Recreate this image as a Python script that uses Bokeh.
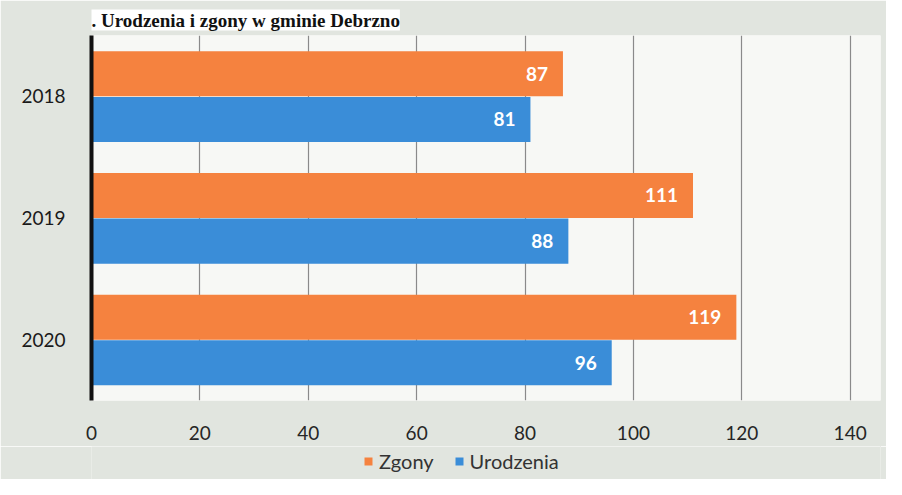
from bokeh.plotting import figure
from bokeh.layouts import column
from bokeh.models import ColumnDataSource, FactorRange, Range1d, Legend, LegendItem, FixedTicker, Title
from bokeh.transform import dodge
from bokeh.core.properties import value
from bokeh.embed import file_html
from bokeh.resources import INLINE

years = ["2018", "2019", "2020"]
zgony = [87, 111, 119]
urodzenia = [81, 88, 96]
x_ticks = [0, 20, 40, 60, 80, 100, 120, 140]
series_names = ["Zgony", "Urodzenia"]
title_text = ". Urodzenia i zgony w gminie Debrzno"

ORANGE = "#F5823F"
BLUE = "#3A8DD8"
FONT = "Lato"
BORDER = "#E1E5DF"
PLOTBG = "#F7F8F5"

src = ColumnDataSource(dict(
    year=years, zgony=zgony, urodzenia=urodzenia,
    zl=[str(v) for v in zgony], ul=[str(v) for v in urodzenia],
))

p = figure(width=886, height=446, output_backend="svg", toolbar_location=None,
           y_range=FactorRange(factors=years[::-1], range_padding=0),
           x_range=Range1d(0, 145.6),
           min_border_left=91, min_border_right=6, min_border_top=35, min_border_bottom=46)

p.title = Title(text=title_text, text_font="Liberation Serif", text_font_size="19px",
                text_font_style="bold", text_color="#111111", align="left",
                background_fill_color="white", standoff=10)

p.border_fill_color = BORDER
p.background_fill_color = PLOTBG
p.outline_line_color = None

r1 = p.hbar(y=dodge("year", 0.185, range=p.y_range), left=0, right="zgony", height=0.37,
            source=src, fill_color=ORANGE, line_color=None)
r2 = p.hbar(y=dodge("year", -0.19, range=p.y_range), left=0, right="urodzenia", height=0.37,
            source=src, fill_color=BLUE, line_color=None)

p.text(x="zgony", y=dodge("year", 0.185, range=p.y_range), text="zl", source=src,
       x_offset=-15, text_align="right", text_baseline="middle", text_color="white",
       text_font=value(FONT), text_font_size="19px", text_font_style="bold")
p.text(x="urodzenia", y=dodge("year", -0.19, range=p.y_range), text="ul", source=src,
       x_offset=-15, text_align="right", text_baseline="middle", text_color="white",
       text_font=value(FONT), text_font_size="19px", text_font_style="bold")

# x axis
p.xaxis.ticker = FixedTicker(ticks=x_ticks)
p.xaxis.axis_line_color = None
p.xaxis.major_tick_line_color = None
p.xaxis.minor_tick_line_color = None
p.xaxis.major_label_standoff = 19
p.xaxis.major_label_text_font = FONT
p.xaxis.major_label_text_font_size = "19px"
p.xaxis.major_label_text_color = "#262626"

# y axis
p.yaxis.axis_line_color = "#111111"
p.yaxis.axis_line_width = 4
p.yaxis.major_tick_line_color = None
p.yaxis.minor_tick_line_color = None
p.yaxis.major_label_standoff = 20
p.yaxis.major_label_text_font = FONT
p.yaxis.major_label_text_font_size = "19px"
p.yaxis.major_label_text_color = "#1a1a1a"

p.xgrid.grid_line_color = "#8a8a8a"
p.xgrid.grid_line_width = 1.2
p.ygrid.grid_line_color = None

# legend strip below the chart
lg = figure(width=886, height=33, output_backend="svg", toolbar_location=None,
            x_range=Range1d(0, 1), y_range=Range1d(0, 1),
            min_border_left=0, min_border_right=0, min_border_top=0, min_border_bottom=0)
lg.axis.visible = False
lg.grid.grid_line_color = None
lg.outline_line_color = None
lg.background_fill_color = BORDER
lg.border_fill_color = BORDER
# swatch renderers kept outside the visible range; only their legend glyphs show
d1 = lg.hbar(y=[5], left=[5], right=[6], height=1, fill_color=ORANGE, line_color=None)
d2 = lg.hbar(y=[5], left=[5], right=[6], height=1, fill_color=BLUE, line_color=None)
legend = Legend(items=[LegendItem(label=series_names[0], renderers=[d1]),
                       LegendItem(label=series_names[1], renderers=[d2])],
                orientation="horizontal", location=(272, 6),
                background_fill_alpha=0, border_line_color=None,
                label_text_font=FONT, label_text_font_size="20px", label_text_color="#333333",
                glyph_width=10, glyph_height=10, label_standoff=6, spacing=20,
                padding=0, margin=0)
lg.add_layout(legend)

layout = column(p, lg, spacing=0)
open("out.html", "w").write(file_html(layout, INLINE))
